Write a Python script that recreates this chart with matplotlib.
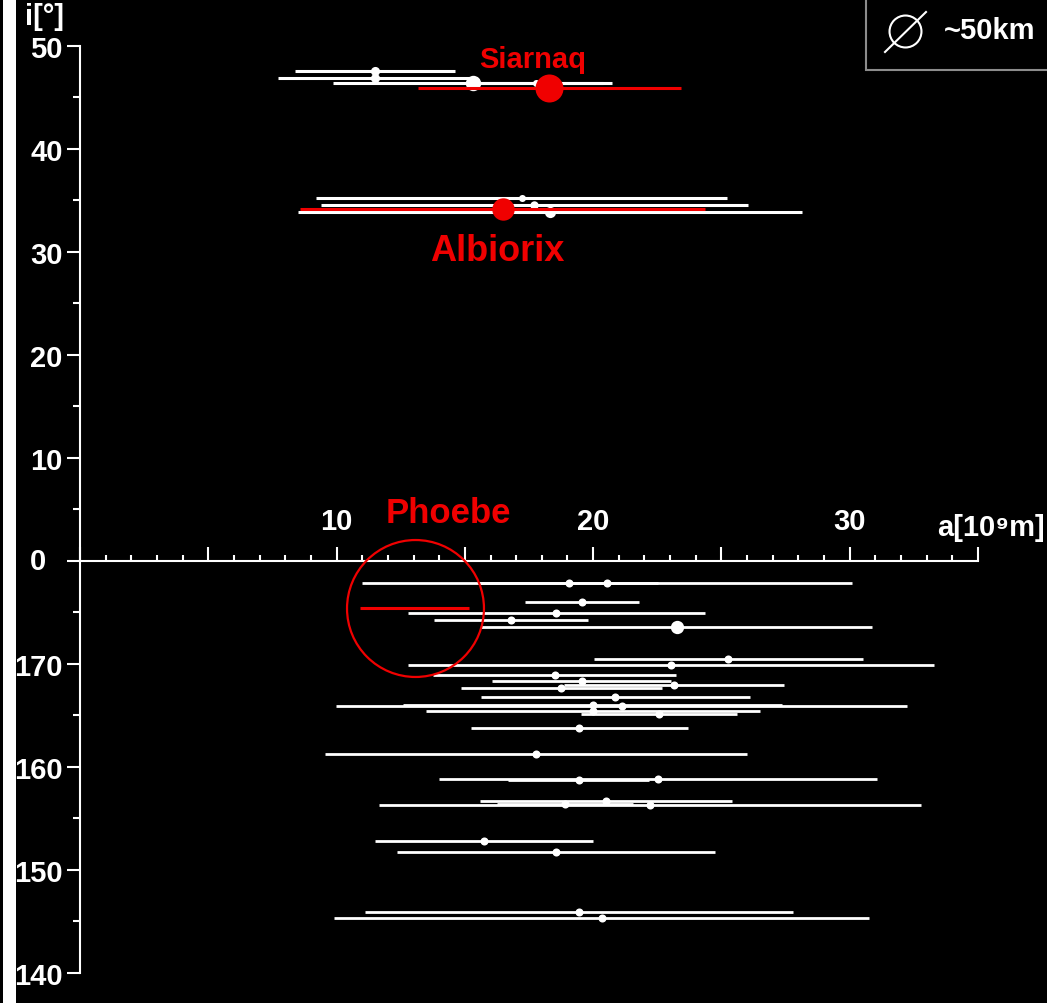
import matplotlib
matplotlib.use("Agg")
import matplotlib.pyplot as plt
from matplotlib.ticker import MultipleLocator, FuncFormatter
from matplotlib.patches import Rectangle
from matplotlib.lines import Line2D

plt.rcParams['font.family'] = ['Liberation Sans', 'DejaVu Sans']
plt.rcParams['font.weight'] = 'bold'

RED = '#f00000'

# prograde groups: semi-major axis [1e9 m], eccentricity, inclination [deg], diameter [km]
pro_names = ['Ijiraq', 'Kiviuq', 'Paaliaq', 'Tarqeq', 'Siarnaq',
             'Bebhionn', 'Erriapus', 'Albiorix', 'Tarvos']
pro_a = [11.50, 11.50, 15.30, 17.79, 18.29, 17.21, 17.70, 16.47, 18.33]
pro_e = [0.27, 0.33, 0.355, 0.146, 0.28, 0.466, 0.47, 0.48, 0.536]
pro_i = [47.55, 46.83, 46.35, 46.35, 45.86, 35.18, 34.56, 34.12, 33.83]
pro_d = [13, 13, 22, 10, 40, 10, 12, 32, 16]
highlight = ['Siarnaq', 'Albiorix']

# Phoebe
phoebe_a, phoebe_e, phoebe_i = 13.04, 0.163, 175.38

# retrograde (Norse) group
ret_a = [20.53, 19.04, 19.57, 18.56, 16.80, 23.25, 25.27, 23.03, 18.51, 19.55,
         23.15, 18.76, 20.87, 21.11, 19.98, 19.99, 22.57, 19.46, 17.77, 22.54,
         19.43, 20.50, 18.89, 22.21, 15.73, 18.55, 19.45, 20.33]
ret_e = [0.465, 0.184, 0.113, 0.312, 0.179, 0.328, 0.207, 0.445, 0.256, 0.179,
         0.185, 0.209, 0.252, 0.527, 0.369, 0.326, 0.134, 0.217, 0.462, 0.379,
         0.142, 0.240, 0.140, 0.475, 0.270, 0.335, 0.428, 0.513]
ret_i = [177.8, 177.8, 176.0, 174.9, 174.2, 173.6, 170.5, 169.9, 168.9, 168.3,
         167.9, 167.6, 166.8, 165.9, 166.0, 165.4, 165.1, 163.8, 161.2, 158.8,
         158.7, 156.7, 156.4, 156.3, 152.8, 151.7, 145.9, 145.3]
ret_d = [11.5] * 28
ret_d[5] = 19

px_per_km = 0.7

fig = plt.figure(figsize=(10.47, 10.04), dpi=100, facecolor='black')
ax = fig.add_axes([80 / 1047, 1 - 973.7 / 1004, 898 / 1047, 927 / 1004])
ax.set_facecolor('black')
ax.set_xlim(0, 35)
ax.set_ylim(-40, 50)

# retrograde orbits
for a, e, i, d in zip(ret_a, ret_e, ret_i, ret_d):
    y = i - 180
    ax.hlines(y, a * (1 - e), a * (1 + e), colors='white', lw=2.0, zorder=2)
    ax.plot(a, y, 'o', color='white', ms=d * px_per_km * 0.72, mew=0, zorder=3)

# prograde orbits
for n, a, e, i, d in zip(pro_names, pro_a, pro_e, pro_i, pro_d):
    c = RED if n in highlight else 'white'
    z = 4 if n in highlight else 2
    ax.hlines(i, a * (1 - e), a * (1 + e), colors=c, lw=2.2, zorder=z)
    ax.plot(a, i, 'o', color=c, ms=d * px_per_km * 0.72, mew=0, zorder=z + 1)

# Phoebe
ax.hlines(phoebe_i - 180, phoebe_a * (1 - phoebe_e), phoebe_a * (1 + phoebe_e),
          colors=RED, lw=2.2, zorder=4)
ax.plot(phoebe_a, phoebe_i - 180, 'o', ms=98.6, mfc='none', mec=RED, mew=1.6,
        clip_on=False, zorder=5)

ax.text(17.65, 47.93, 'Siarnaq', color=RED, fontsize=21, ha='center', va='baseline')
ax.text(16.25, 29.19, 'Albiorix', color=RED, fontsize=26, ha='center', va='baseline')
ax.text(14.37, 3.76, 'Phoebe', color=RED, fontsize=25, ha='center', va='baseline')

# axes styling
for s in ['right', 'bottom']:
    ax.spines[s].set_visible(False)
ax.spines['top'].set_position(('data', 0))
ax.spines['top'].set_color('white')
ax.spines['left'].set_color('white')
ax.spines['top'].set_linewidth(1.5)
ax.spines['left'].set_linewidth(1.5)
ax.xaxis.set_ticks_position('top')

ax.xaxis.set_major_locator(MultipleLocator(5))
ax.xaxis.set_minor_locator(MultipleLocator(1))
ax.yaxis.set_major_locator(MultipleLocator(10))
ax.yaxis.set_minor_locator(MultipleLocator(5))
ax.xaxis.set_major_formatter(FuncFormatter(
    lambda v, p: str(int(round(v))) if v > 0 and round(v) % 10 == 0 else ''))
ax.yaxis.set_major_formatter(FuncFormatter(
    lambda v, p: '' if round(v) == 0 else (str(int(round(v))) if v > 0 else str(int(round(180 + v))))))

ax.tick_params(axis='x', which='major', direction='out', length=10, width=1.5,
               colors='white', labelsize=21, pad=8.6)
ax.tick_params(axis='x', which='minor', direction='out', length=4.3, width=1.5, colors='white')
ax.tick_params(axis='y', which='major', direction='out', length=9.4, width=1.5,
               colors='white', labelsize=21, pad=3)
ax.tick_params(axis='y', which='minor', direction='out', length=5, width=1.5, colors='white')
for lab in ax.get_xticklabels() + ax.get_yticklabels():
    lab.set_fontweight('bold')

ax.text(-1.64, 0, '0', color='white', fontsize=21, ha='center', va='center')
ax.text(33.4, 2.5, 'a[10⁹m]', color='white', fontsize=21, ha='left', va='baseline')
fig.text(25 / 1047, 1 - 3 / 1004, 'i[°]', color='white', fontsize=21, ha='left', va='top')

# size key box
fig.add_artist(Rectangle((866 / 1047, 1 - 71 / 1004), 0.2, 0.2, transform=fig.transFigure,
                         facecolor='black', edgecolor='#8c8c8c', lw=1.5))
fig.add_artist(Line2D([905 / 1047], [1 - 32 / 1004], transform=fig.transFigure, marker='o',
                      ms=23, mfc='none', mec='white', mew=1.5))
fig.add_artist(Line2D([885 / 1047, 926 / 1047], [1 - 53 / 1004, 1 - 13 / 1004],
                      transform=fig.transFigure, color='white', lw=1.5))
fig.text(944 / 1047, 1 - 31 / 1004, '~50km', color='white', fontsize=21, ha='left', va='center')

# white strip at left edge
fig.add_artist(Rectangle((3 / 1047, 0), 13 / 1047, 1, transform=fig.transFigure,
                         facecolor='white', edgecolor='none'))

fig.savefig('out.png', dpi=100, facecolor='black')
